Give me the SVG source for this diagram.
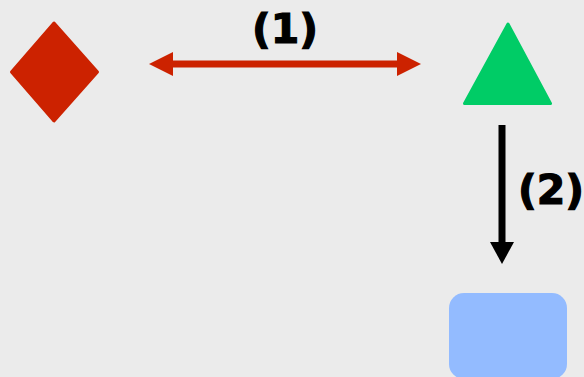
<svg xmlns="http://www.w3.org/2000/svg" width="584" height="377" viewBox="0 0 584 377">
  <style>
    .lbl { font-family: "DejaVu Sans", "Liberation Sans", sans-serif; font-weight: bold; font-size: 41px; fill: #000; stroke: #000; stroke-width: 1.2; text-anchor: middle; }
    .shape { stroke-linejoin: round; stroke-width: 3; }
  </style>
  <defs>
    <marker id="redHead" viewBox="0 0 24 24" markerWidth="24" markerHeight="24" refX="0" refY="12" orient="auto-start-reverse" markerUnits="userSpaceOnUse">
      <path d="M0,0 L24,12 L0,24 Z" fill="#CC2200"/>
    </marker>
    <marker id="blackHead" viewBox="0 0 22 24" markerWidth="22" markerHeight="24" refX="0" refY="12" orient="auto" markerUnits="userSpaceOnUse">
      <path d="M0,0 L22,12 L0,24 Z" fill="#000"/>
    </marker>
  </defs>
  <rect width="584" height="377" fill="#EBEBEB"/>

  <g id="diamond">
    <path class="shape" d="M54,23 L97.5,72 L54,121 L11.5,72 Z" fill="#CC2200" stroke="#CC2200"/>
  </g>
  <g id="triangle">
    <path class="shape" d="M508,24 L550.5,103.5 L464.5,103.5 Z" fill="#00CC66" stroke="#00CC66"/>
  </g>
  <g id="box">
    <rect x="449" y="293" width="118" height="86" rx="15" ry="15" fill="#93BBFF"/>
  </g>

  <g id="connectors">
    <line x1="173" y1="64" x2="397" y2="64" stroke="#CC2200" stroke-width="7" marker-start="url(#redHead)" marker-end="url(#redHead)"/>
    <line x1="502" y1="125" x2="502" y2="242" stroke="#000" stroke-width="7" marker-end="url(#blackHead)"/>
    <text class="lbl" x="285" y="43">(1)</text>
    <text class="lbl" x="551" y="204">(2)</text>
  </g>
</svg>
